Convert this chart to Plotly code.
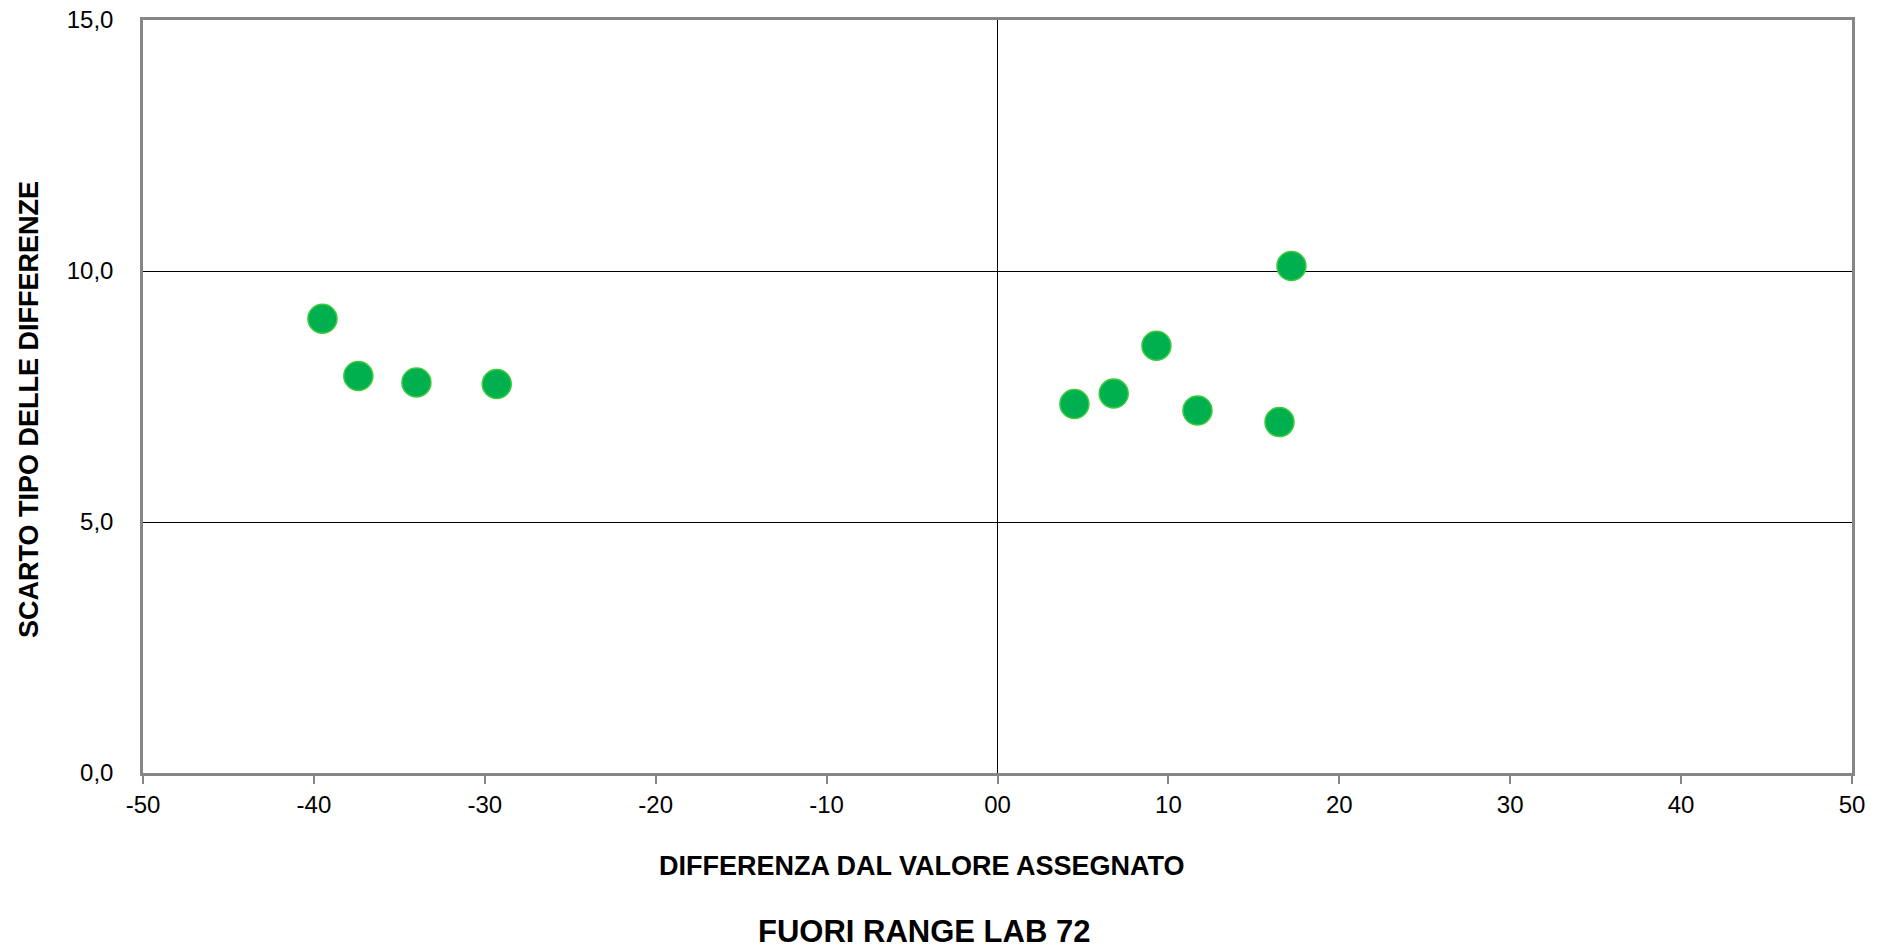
import plotly.graph_objects as go

# Data
diff_values = [-39.5, -37.4, -34.0, -29.3, 4.5, 6.8, 9.3, 11.7, 16.5, 17.2]
sd_values = [9.05, 7.91, 7.78, 7.75, 7.35, 7.56, 8.51, 7.22, 6.99, 10.10]

x_ticks = [-50, -40, -30, -20, -10, 0, 10, 20, 30, 40, 50]
x_tick_labels = ["-50", "-40", "-30", "-20", "-10", "00", "10", "20", "30", "40", "50"]
y_ticks = [0, 5, 10, 15]
y_tick_labels = ["0,0", "5,0", "10,0", "15,0"]

x_title = "DIFFERENZA DAL VALORE ASSEGNATO"
y_title = "SCARTO TIPO DELLE DIFFERENZE"
chart_title = "FUORI RANGE LAB 72"

# the page body margin is removed (post_script) so the figure fills the 1885x952 window
W, H = 1885, 952
L, R, T, B = 143, 1885 - 1852, 20, 952 - 773
PW, PH = 1852 - 143, 773 - 20

fig = go.Figure()
fig.add_trace(go.Scatter(
    x=diff_values, y=sd_values, mode="markers",
    marker=dict(size=29, color="#00B04F", line=dict(color="#3DCB3D", width=1.5)),
    showlegend=False, hoverinfo="x+y",
))

frame = "#868686"
fig.update_layout(
    width=W, height=H,
    margin=dict(l=L, r=R, t=T, b=B, autoexpand=False),
    paper_bgcolor="white", plot_bgcolor="white",
    font=dict(family="Arial, Liberation Sans, sans-serif", color="black", size=24),
    xaxis=dict(
        range=[-50, 50], tickmode="array", tickvals=x_ticks, ticktext=x_tick_labels,
        showgrid=False, zeroline=True, zerolinecolor="black", zerolinewidth=1.2,
        showline=True, linecolor=frame, linewidth=2.5, mirror=True,
        ticks="outside", ticklen=8, tickwidth=1.5, tickcolor=frame,
        tickfont=dict(size=24), fixedrange=True, ticklabeloverflow="allow",
    ),
    yaxis=dict(
        range=[0, 15], tickmode="array", tickvals=y_ticks, ticktext=y_tick_labels,
        showgrid=True, gridcolor="black", gridwidth=1.2, zeroline=False,
        showline=True, linecolor=frame, linewidth=2.5, mirror=True,
        ticks="", ticklabelstandoff=22, ticklabeloverflow="allow",
        tickfont=dict(size=24), fixedrange=True,
    ),
    annotations=[
        dict(text=f"<b>{x_title}</b>", xref="paper", yref="paper",
             x=(922 - 143) / PW, y=-(866 - 773) / PH, xanchor="center", yanchor="middle",
             showarrow=False, font=dict(size=27, family="Arial, Liberation Sans, sans-serif")),
        dict(text=f"<b>{y_title}</b>", xref="paper", yref="paper",
             x=-(143 - 29) / PW, y=(773 - 410) / PH, xanchor="center", yanchor="middle",
             textangle=-90, showarrow=False,
             font=dict(size=27, family="Arial, Liberation Sans, sans-serif")),
        dict(text=f"<b>{chart_title}</b>", xref="paper", yref="paper",
             x=(924 - 143) / PW, y=-(931 - 773) / PH, xanchor="center", yanchor="middle",
             showarrow=False, font=dict(size=31, family="Liberation Sans, Arial, sans-serif")),
    ],
)

fig.write_html(
    "out.html",
    config={"displayModeBar": False},
    post_script="document.body.style.margin='0px'; document.body.style.overflow='hidden';",
)
